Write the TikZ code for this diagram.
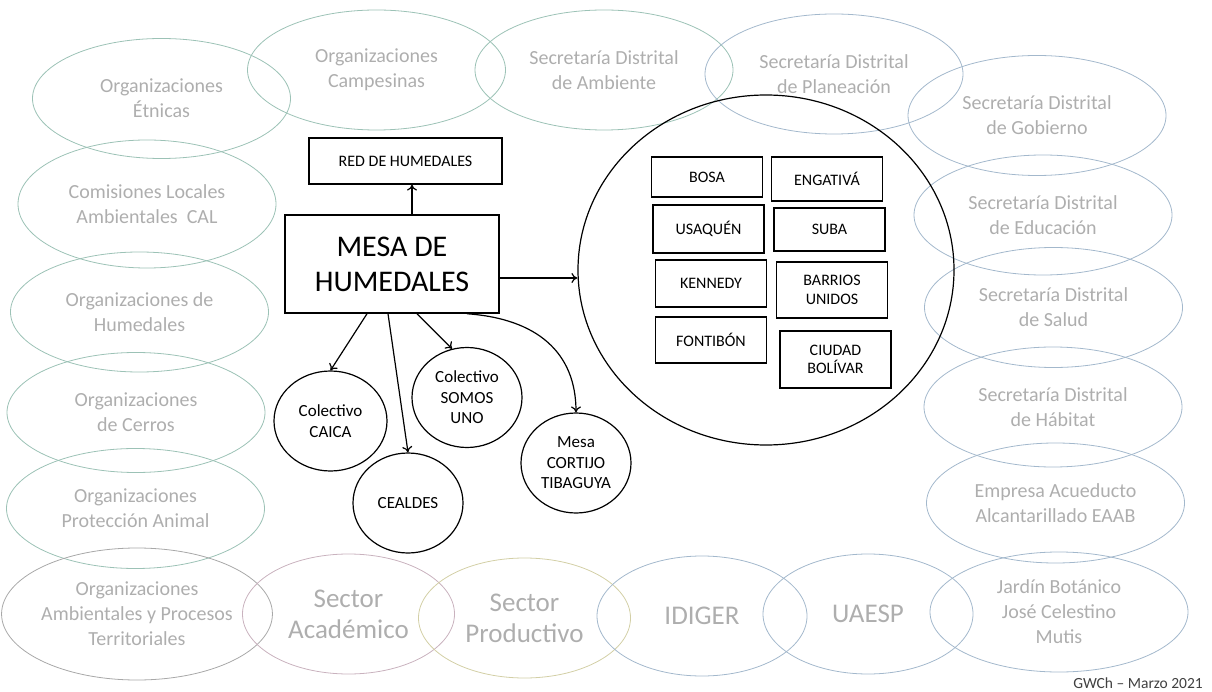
\documentclass[tikz,border=0pt]{standalone}
\usepackage{fontspec}
\setmainfont{Carlito}
\usetikzlibrary{shapes.geometric,arrows.meta}
\definecolor{verde}{HTML}{9CC2B6}
\definecolor{azul}{HTML}{A3B8CC}
\definecolor{gris}{HTML}{A8A8A8}
\definecolor{rosa}{HTML}{C9B2BE}
\definecolor{oliva}{HTML}{D3CFA6}
\definecolor{textogris}{HTML}{AEAEAE}
\begin{document}
\begin{tikzpicture}[x=1pt,y=-1pt,
	org/.style={ellipse,draw=verde,line width=0.8pt,inner sep=0pt,minimum width=258pt,minimum height=120pt,text=textogris,align=center,font=\fontsize{20}{25}\selectfont},
	sector/.style={org,font=\fontsize{27}{31}\selectfont,minimum width=212pt},
	grupo/.style={ellipse,draw,line width=1.2pt,inner sep=0pt,minimum width=110pt,minimum height=100pt,align=center,font=\fontsize{17}{20.5}\selectfont},
	localidad/.style={draw,line width=1.1pt,inner sep=0pt,minimum width=111pt,align=center,font=\fontsize{16}{18.5}\selectfont},
	flecha/.style={-{To[length=6pt,width=10pt]},line width=1.2pt}]
	\useasboundingbox (0,0) rectangle (1212,692);
	\node[org] (etnicas) at (161.5,98.5) {Organizaciones\\Étnicas};
	\node[org,minimum height=128pt] (cal) at (147,204) {Comisiones Locales\\Ambientales\ \ CAL};
	\node[org] (orghum) at (139.5,312) {Organizaciones de\\Humedales};
	\node[org] (cerros) at (136,412.5) {Organizaciones\\de Cerros};
	\node[org] (animal) at (135.5,508.5) {Organizaciones\\Protección Animal};
	\node[org,draw=gris,minimum height=132pt] (procesos) at (137,614) {Organizaciones\\Ambientales y Procesos\\Territoriales};
	\node[org] (campesinas) at (376.5,70) {Organizaciones\\Campesinas};
	\node[org] (ambiente) at (604,70) {Secretaría Distrital\\de Ambiente};
	\node[org,draw=azul] (planeacion) at (834,74) {Secretaría Distrital\\de Planeación};
	\node[org,draw=azul] (gobierno) at (1037,115.5) {Secretaría Distrital\\de Gobierno};
	\node[org,draw=azul] (educacion) at (1043,215) {Secretaría Distrital\\de Educación};
	\node[org,draw=azul] (salud) at (1053.5,307.5) {Secretaría Distrital\\de Salud};
	\node[org,draw=azul] (habitat) at (1053,407) {Secretaría Distrital\\de Hábitat};
	\node[org,draw=azul] (eaab) at (1055.5,503) {Empresa Acueducto\\Alcantarillado EAAB};
	\node[org,draw=azul] (jardin) at (1059,612) {Jardín Botánico\\José Celestino\\Mutis};
	\node[sector,draw=rosa] (academico) at (348.5,614) {Sector\\Académico};
	\node[sector,draw=oliva] (productivo) at (524.5,618) {Sector\\Productivo};
	\node[sector,draw=azul,minimum width=210pt] (idiger) at (702,616) {IDIGER};
	\node[sector,draw=azul,minimum width=210pt] (uaesp) at (868,614) {UAESP};
	\node[draw,line width=1.5pt,minimum width=214pt,minimum height=98pt,align=center,font=\fontsize{30}{35}\selectfont] (mesa) at (392,264) {MESA DE\\HUMEDALES};
	\node[draw,line width=1.2pt,minimum width=193pt,minimum height=46pt,font=\fontsize{16}{19}\selectfont] (red) at (405.5,161) {RED DE HUMEDALES};
	\node[ellipse,draw,line width=1.2pt,minimum width=376pt,minimum height=350pt] (locales) at (766,270) {};
	\node[localidad,minimum height=40pt] (bosa) at (707,177) {BOSA};
	\node[localidad,minimum height=44pt] (engativa) at (827,179) {ENGATIVÁ};
	\node[localidad,minimum height=48pt] (usaquen) at (708.5,229) {USAQUÉN};
	\node[localidad,minimum height=43pt] (suba) at (829.5,229.5) {SUBA};
	\node[localidad,minimum height=47pt] (kennedy) at (711,283.5) {KENNEDY};
	\node[localidad,minimum height=56pt] (barrios) at (832,290) {BARRIOS\\UNIDOS};
	\node[localidad,minimum height=46pt] (fontibon) at (711,340) {FONTIBÓN};
	\node[localidad,minimum height=57pt] (bolivar) at (835.5,359.5) {CIUDAD\\BOLÍVAR};
	\node[grupo,minimum width=113pt] (caica) at (330.5,421) {Colectivo\\CAICA};
	\node[grupo] (cealdes) at (408,503) {CEALDES};
	\node[grupo] (somos) at (467,397.5) {Colectivo\\SOMOS\\UNO};
	\node[grupo] (cortijo) at (576,463) {Mesa\\CORTIJO\\TIBAGUYA};
	\node[anchor=south east,text=black!75,inner sep=0pt,font=\fontsize{15.5}{18}\selectfont] (firma) at (1203,689) {GWCh -- Marzo 2021};
	\draw[flecha] ([xshift=20pt]mesa.north) -- ([xshift=20pt]mesa.north |- red.south);
	\draw[flecha] ([yshift=-14pt]mesa.east) -- ([yshift=-14pt]mesa.east -| locales.west);
	\draw[flecha] ([xshift=-25pt]mesa.south) -- (caica.north);
	\draw[flecha] ([xshift=-4pt]mesa.south) -- (cealdes.north);
	\draw[flecha] ([xshift=25pt]mesa.south) -- (somos.107);
	\draw[flecha] ([xshift=75pt]mesa.south) .. controls +(70,5) and +(0,-60) .. (cortijo.north);
\end{tikzpicture}
\end{document}
